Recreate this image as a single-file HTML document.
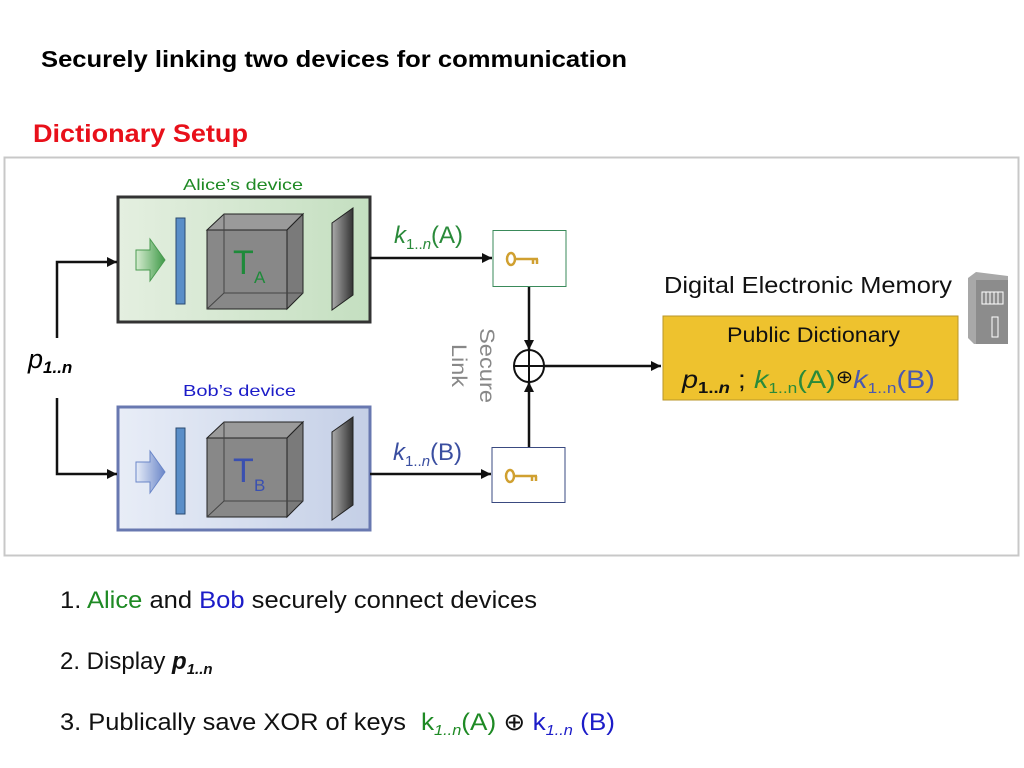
<!DOCTYPE html>
<html><head><meta charset="utf-8"><style>
html,body{margin:0;padding:0;background:#fff;width:1024px;height:768px;overflow:hidden}
svg{display:block}
text{font-family:"Liberation Sans",sans-serif}
</style></head><body>
<svg width="1024" height="768" viewBox="0 0 1024 768" xmlns="http://www.w3.org/2000/svg">
<defs>
<marker id="ar" markerWidth="12" markerHeight="12" refX="10" refY="6" orient="auto" markerUnits="userSpaceOnUse">
<path d="M0,1 L10,6 L0,11 Z" fill="#111"/></marker>
<linearGradient id="gA" x1="0" y1="0" x2="1" y2="0"><stop offset="0" stop-color="#e4efe0"/><stop offset="1" stop-color="#c4dfc0"/></linearGradient>
<linearGradient id="gB" x1="0" y1="0" x2="1" y2="0"><stop offset="0" stop-color="#e8edf7"/><stop offset="1" stop-color="#c4cfe6"/></linearGradient>
<linearGradient id="pan" x1="0" y1="0" x2="1" y2="0"><stop offset="0" stop-color="#aaa"/><stop offset="1" stop-color="#333"/></linearGradient>
<linearGradient id="arG" x1="0" y1="0" x2="1" y2="0"><stop offset="0" stop-color="#d6ecd0"/><stop offset="1" stop-color="#3f9a48"/></linearGradient>
<linearGradient id="arB" x1="0" y1="0" x2="1" y2="0"><stop offset="0" stop-color="#e6ecf8"/><stop offset="1" stop-color="#6a86c8"/></linearGradient>
</defs>
<text x="41" y="67" font-size="23" font-weight="bold" fill="#000" textLength="586" lengthAdjust="spacingAndGlyphs">Securely linking two devices for communication</text>
<text x="33" y="142" font-size="25" font-weight="bold" fill="#e8101a" textLength="215" lengthAdjust="spacingAndGlyphs">Dictionary Setup</text>
<rect x="4.5" y="157.5" width="1014" height="398" fill="#fff" stroke="#c8c8c8" stroke-width="2"/>

<text x="183" y="190" font-size="16" fill="#1e8a24" textLength="120" lengthAdjust="spacingAndGlyphs">Alice’s device</text>
<rect x="118" y="197" width="252" height="125" fill="url(#gA)" stroke="#333" stroke-width="3"/>
<text x="183" y="396" font-size="16" fill="#1c1cc8" textLength="113" lengthAdjust="spacingAndGlyphs">Bob’s device</text>
<rect x="118" y="407" width="252" height="123" fill="url(#gB)" stroke="#6878b0" stroke-width="3"/>

<path d="M136,250 L150,250 L150,239 L165,260 L150,281 L150,270 L136,270 Z" fill="url(#arG)" stroke="#4a9a50"/>
<rect x="176" y="218" width="9" height="86" fill="#5a8ec8" stroke="#2a4a70"/>
<g stroke="#222" stroke-width="1">
<rect x="207" y="230" width="80" height="79" fill="#888"/>
<path d="M207,230 L224,214 L303,214 L287,230 Z" fill="#9a9a9a"/>
<path d="M287,230 L303,214 L303,293 L287,309 Z" fill="#7a7a7a"/>
<path d="M224,214 L224,293 L303,293 M224,293 L207,309" fill="none" stroke="#444"/>
</g>
<text x="233" y="274" font-size="34" fill="#1e8a3a">T</text><text x="254" y="283" font-size="17" fill="#1e8a3a">A</text>
<path d="M332,223 L353,208 L353,295 L332,310 Z" fill="url(#pan)" stroke="#222"/>

<path d="M136,462 L150,462 L150,451 L165,472 L150,493 L150,482 L136,482 Z" fill="url(#arB)" stroke="#6a86c8"/>
<rect x="176" y="428" width="9" height="86" fill="#5a8ec8" stroke="#2a4a70"/>
<g stroke="#222" stroke-width="1">
<rect x="207" y="438" width="80" height="79" fill="#888"/>
<path d="M207,438 L224,422 L303,422 L287,438 Z" fill="#9a9a9a"/>
<path d="M287,438 L303,422 L303,501 L287,517 Z" fill="#7a7a7a"/>
<path d="M224,422 L224,501 L303,501 M224,501 L207,517" fill="none" stroke="#444"/>
</g>
<text x="233" y="482" font-size="34" fill="#3a50b0">T</text><text x="254" y="491" font-size="17" fill="#3a50b0">B</text>
<path d="M332,432 L353,417 L353,505 L332,520 Z" fill="url(#pan)" stroke="#222"/>

<text x="28" y="368" font-size="27" font-style="italic" fill="#000">p<tspan font-size="17" font-weight="bold" dy="5">1..n</tspan></text>
<path d="M57,338 L57,262 L117,262" fill="none" stroke="#111" stroke-width="2.5" marker-end="url(#ar)"/>
<path d="M57,398 L57,474 L117,474" fill="none" stroke="#111" stroke-width="2.5" marker-end="url(#ar)"/>

<path d="M370,258 L492,258" stroke="#111" stroke-width="2.5" marker-end="url(#ar)"/>
<path d="M370,474 L491,474" stroke="#111" stroke-width="2.5" marker-end="url(#ar)"/>
<text x="394" y="243" font-size="24" fill="#2a8a3a"><tspan font-style="italic">k</tspan><tspan font-size="15" dy="6">1..<tspan font-style="italic">n</tspan></tspan><tspan dy="-6">(A)</tspan></text>
<text x="393" y="460" font-size="24" fill="#3a4ea0"><tspan font-style="italic">k</tspan><tspan font-size="15" dy="6">1..<tspan font-style="italic">n</tspan></tspan><tspan dy="-6">(B)</tspan></text>
<rect x="493" y="230.5" width="73" height="56" fill="#fff" stroke="#3a8a5a"/>
<rect x="492" y="447.5" width="73" height="55" fill="#fff" stroke="#3a4a80"/>
<g stroke="#d0a030" stroke-width="2.5" fill="none">
<ellipse cx="511" cy="259" rx="4" ry="6"/><path d="M515,259 L538,259 M533,259 L533,264 M537,259 L537,264"/>
<ellipse cx="510" cy="476" rx="4" ry="6"/><path d="M514,476 L537,476 M532,476 L532,481 M536,476 L536,481"/>
</g>
<path d="M529,287 L529,350" stroke="#111" stroke-width="2.5" marker-end="url(#ar)"/>
<path d="M529,447 L529,382" stroke="#111" stroke-width="2.5" marker-end="url(#ar)"/>
<ellipse cx="529" cy="366" rx="15" ry="16" fill="none" stroke="#111" stroke-width="2"/>
<path d="M514,366 L544,366 M529,350 L529,382" stroke="#111" stroke-width="2"/>
<path d="M544,366 L661,366" stroke="#111" stroke-width="2.5" marker-end="url(#ar)"/>
<text transform="translate(480,328) rotate(90)" font-size="21" fill="#888" textLength="75" lengthAdjust="spacingAndGlyphs">Secure</text>
<text transform="translate(452,344) rotate(90)" font-size="21" fill="#888" textLength="43" lengthAdjust="spacingAndGlyphs">Link</text>

<text x="664" y="293" font-size="23" fill="#111" textLength="288" lengthAdjust="spacingAndGlyphs">Digital Electronic Memory</text>
<rect x="663" y="316" width="295" height="84" fill="#eec22e" stroke="#b8962a"/>
<text x="727" y="342" font-size="21" fill="#111" textLength="173" lengthAdjust="spacingAndGlyphs">Public Dictionary</text>
<text x="682" y="388" font-size="25" fill="#111" textLength="253" lengthAdjust="spacingAndGlyphs"><tspan font-style="italic">p</tspan><tspan font-size="16" font-weight="bold" dy="5">1..<tspan font-style="italic">n</tspan></tspan><tspan dy="-5"> ;  </tspan><tspan fill="#2a8a3a" font-style="italic">k</tspan><tspan fill="#2a8a3a" font-size="15" dy="5">1..n</tspan><tspan fill="#2a8a3a" dy="-5">(A)</tspan><tspan font-size="18" dy="-5">⊕</tspan><tspan fill="#4a58b0" font-style="italic" dy="5">k</tspan><tspan fill="#4a58b0" font-size="15" dy="5">1..n</tspan><tspan fill="#4a58b0" dy="-5">(B)</tspan></text>
<path d="M968,278 L976,272 L1008,276 L1008,344 L974,344 L968,338 Z" fill="#a8a8a8"/>
<rect x="976" y="280" width="32" height="64" fill="#8c8c8c"/>
<path d="M982,292 L1003,292 L1003,304 L982,304 Z" fill="none" stroke="#fff"/>
<path d="M986,292 V304 M990,292 V304 M994,292 V304 M998,292 V304" stroke="#fff"/>
<rect x="992" y="317" width="6" height="20" fill="none" stroke="#fff"/>

<text x="60" y="608" font-size="24" fill="#111" textLength="477" lengthAdjust="spacingAndGlyphs">1. <tspan fill="#1e8a24">Alice</tspan> and <tspan fill="#1c1cc8">Bob</tspan> securely connect devices</text>
<text x="60" y="669" font-size="24" fill="#111">2. Display <tspan font-weight="bold" font-style="italic">p</tspan><tspan font-size="15" font-weight="bold" font-style="italic" dy="5">1..n</tspan></text>
<text x="60" y="730" font-size="24" fill="#111" textLength="346" lengthAdjust="spacingAndGlyphs">3. Publically save XOR of keys</text>
<text x="421" y="730" font-size="24" fill="#111" textLength="194" lengthAdjust="spacingAndGlyphs"><tspan fill="#1e8a24">k</tspan><tspan fill="#1e8a24" font-size="15" font-style="italic" dy="5">1..n</tspan><tspan fill="#1e8a24" dy="-5">(A)</tspan> ⊕  <tspan fill="#1c1cc8">k</tspan><tspan fill="#1c1cc8" font-size="15" font-style="italic" dy="5">1..n</tspan><tspan fill="#1c1cc8" dy="-5"> (B)</tspan></text>
</svg>
</body></html>
